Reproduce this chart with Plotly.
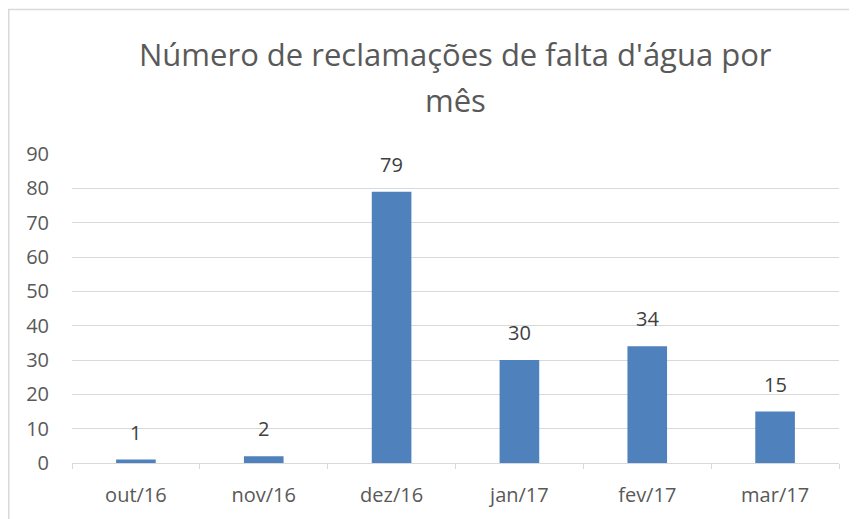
import plotly.graph_objects as go

categories = ["out/16", "nov/16", "dez/16", "jan/17", "fev/17", "mar/17"]
values = [1, 2, 79, 30, 34, 15]
y_ticks = [0, 10, 20, 30, 40, 50, 60, 70, 80, 90]
title_lines = ["Número de reclamações de falta d'água por", "mês"]

FONT = "Open Sans"
# the page body adds an 8px offset, so the figure is drawn 8px smaller
OFF = 8
W, H = 857 - OFF, 519 - OFF
L, R, T, B = 72 - OFF, 18, 154 - OFF, 56
pw, ph = W - L - R, H - T - B

fig = go.Figure(go.Bar(
    x=categories, y=values,
    marker=dict(color="#4f81bd", line=dict(color="#4f81bd", width=0)),
    cliponaxis=False,
))

def px(x):
    return (x - OFF - L) / pw

def py(y):
    return (H - B - (y - OFF)) / ph

annotations = []
for c, v in zip(categories, values):
    annotations.append(dict(
        x=c, y=v, xref="x", yref="y", text=str(v), showarrow=False,
        yanchor="bottom", yshift=12,
        font=dict(family=FONT, size=20, color="#404040"),
    ))
for line, ypix in zip(title_lines, [54, 100]):
    annotations.append(dict(
        x=0.5, xref="paper", y=py(ypix), yref="paper", text=line,
        showarrow=False, xanchor="center", yanchor="middle",
        font=dict(family=FONT, size=31, color="#595959"),
    ))

fig.update_layout(
    width=W, height=H,
    margin=dict(l=L, r=R, t=T, b=B),
    paper_bgcolor="white", plot_bgcolor="white",
    bargap=0.69,
    showlegend=False,
    annotations=annotations,
    xaxis=dict(
        showgrid=False, showline=True, linecolor="#d9d9d9", linewidth=1,
        ticks="outside", tickson="boundaries", ticklen=5, tickcolor="#d9d9d9",
        tickfont=dict(family=FONT, size=20, color="#595959"),
        ticklabelstandoff=14,
    ),
    yaxis=dict(
        range=[0, 90], tickvals=y_ticks, showgrid=True, gridcolor="#d9d9d9",
        zeroline=False, showline=False, ticks="",
        tickfont=dict(family=FONT, size=20, color="#595959"),
        ticklabelstandoff=22,
    ),
    shapes=[
        dict(type="line", xref="paper", yref="paper",
             x0=px(8), x1=px(857 + 5), y0=py(9.5), y1=py(9.5),
             line=dict(color="#d9d9d9", width=1.5), layer="below"),
        dict(type="line", xref="paper", yref="paper",
             x0=px(8.75), x1=px(8.75), y0=py(9), y1=py(519 + 5),
             line=dict(color="#d9d9d9", width=1.5), layer="below"),
    ],
)

fig.write_html("out.html")
